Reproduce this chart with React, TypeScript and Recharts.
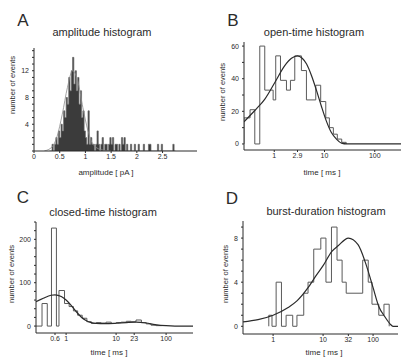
import { ComposedChart, Line, Area, XAxis, YAxis } from "recharts";

const font = "'Liberation Sans', Arial, sans-serif";
const ink = "#2b2b2b";
const histInk = "#5a5a5a";

// A: amplitude histogram, bins of 0.025 pA starting at 0.3 pA
const ampBinStart = 0.3;
const ampBinWidth = 0.025;
const ampCounts = [
  0, 0, 1, 0, 1, 2, 1, 3, 2, 4, 3, 6, 5, 8, 7, 11, 9, 12, 14, 10,
  12, 9, 11, 7, 9, 5, 6, 3, 2, 1, 6, 1, 2, 1, 1, 0, 1, 3, 1, 0,
  1, 2, 0, 1, 1, 0, 1, 2, 1, 2, 0, 1, 1, 0, 1, 0, 2, 1, 2, 0,
  1, 0, 0, 1, 0, 0, 1, 0, 0, 1, 0, 0, 0, 1, 0, 0, 0, 1, 1, 0,
  0, 0, 0, 0, 1, 0, 0, 1, 0, 0, 0, 0, 0, 0, 0, 0, 1, 0,
];
const ampFitX = [0.2, 0.35, 0.45, 0.55, 0.65, 0.75, 0.85, 0.95, 1.05, 1.15, 1.3, 1.5];
const ampFitY = [0, 0.6, 2.2, 5.5, 9.5, 12, 10.5, 6.5, 3, 1, 0.2, 0];
const ampTicks = [0, 0.5, 1, 1.5, 2, 2.5];
const ampYTicks = [0, 1, 2, 3, 4, 5, 6, 7, 8, 9, 10, 11, 12, 13, 14, 15];
const ampYLabels = [4, 8, 12];

// B: open-time histogram (bin edges in ms, counts)
const openEdges = [
  0.25, 0.33, 0.41, 0.515, 0.647, 0.815, 0.95, 1.07, 1.33, 1.75, 2.1,
  2.56, 3.47, 4.37, 6.7, 8.4, 10.6, 12.5, 15, 18, 22, 27,
];
const openCounts = [16, 21, 0, 60, 33, 33, 27, 54, 39, 33, 39, 54, 45, 27, 36, 26, 16, 10, 6, 3, 1];
const openFitT = [0.25, 0.41, 0.65, 1.02, 1.62, 2.2, 2.9, 3.6, 4.4, 5.5, 6.9, 8.7, 10.9, 13.7, 17.3, 21.8, 28, 333];
const openFitN = [13.6, 20.5, 27.5, 37.5, 48, 52.5, 54, 52.5, 49, 42, 33, 23, 14, 7, 3, 0.5, 0, 0];
const openTicks = [1, 2.9, 10, 100];
const openYTicks = [0, 10, 20, 30, 40, 50, 60];
const openYLabels = [0, 20, 40, 60];

// C: closed-time histogram
const closedEdges = [
  0.25, 0.33, 0.42, 0.51, 0.64, 0.72, 0.93, 1.15, 1.4, 1.7, 2.1, 2.6, 3.2,
  4, 5, 6.3, 8, 10, 12.6, 16, 20, 25, 32, 40, 50, 63, 80,
];
const closedCounts = [0, 52, 0, 226, 0, 82, 52, 45, 35, 25, 18, 10, 6, 8, 7, 9, 6, 8, 9, 11, 10, 14, 8, 5, 2, 1];
const closedFitT = [0.25, 0.35, 0.5, 0.6, 0.8, 1, 1.3, 1.6, 2, 2.5, 3.2, 4, 6, 10, 16, 25, 40, 60, 100, 150, 345];
const closedFitN = [56, 64, 71, 72, 68, 60, 46, 33, 21, 13, 8, 6, 5.5, 6.5, 8, 9, 7, 3.5, 0.8, 0, 0];
const closedTicks = [0.6, 1, 10, 23, 100];
const closedYTicks = [0, 20, 40, 60, 80, 100, 120, 140, 160, 180, 200, 220, 240];
const closedYLabels = [0, 100, 200];

// D: burst-duration histogram
const burstEdges = [
  0.82, 0.95, 1.15, 1.47, 1.82, 2.47, 3, 4.1, 5, 6.5, 9, 11.4, 14.7, 19,
  24, 29, 62, 80, 95, 130, 165, 210,
];
const burstCounts = [1, 0, 4, 0, 1, 0, 1, 3, 4, 7, 8, 4, 9, 6, 4, 3, 6, 4, 2, 1, 2];
const burstFitT = [0.25, 0.5, 1, 2, 3, 5, 7, 10, 15, 20, 32, 50, 70, 100, 130, 170, 220, 250, 315];
const burstFitN = [0.4, 0.6, 1, 1.7, 2.3, 3.5, 4.5, 5.5, 6.8, 7.3, 8, 7.4, 5.8, 3.5, 1.8, 0.9, 0.2, 0, 0];
const burstTicks = [1, 10, 32, 100];
const burstYTicks = [0, 1, 2, 3, 4, 5, 6, 7, 8, 9];
const burstYLabels = [0, 4, 8];

function steps(edges: number[], counts: number[]) {
  const pts = [{ x: edges[0], y: 0 }];
  counts.forEach((c, i) => pts.push({ x: edges[i], y: c }));
  pts.push({ x: edges[edges.length - 1], y: 0 });
  return pts;
}

function pairs(xs: number[], ys: number[]) {
  return xs.map((x, i) => ({ x, y: ys[i] }));
}

const ampEdges = [...ampCounts.map((_, i) => +(ampBinStart + i * ampBinWidth).toFixed(3)), +(ampBinStart + ampCounts.length * ampBinWidth).toFixed(3)];

function Txt({ x, y, size, children, rotate }: any) {
  return (
    <div
      style={{
        position: "absolute",
        left: x,
        top: y,
        transform: `translate(-50%, -50%)${rotate ? " rotate(-90deg)" : ""}`,
        fontFamily: font,
        fontSize: size,
        color: ink,
        whiteSpace: "nowrap",
        lineHeight: 1,
      }}
    >
      {children}
    </div>
  );
}

function Panel({
  left, top, width, height, margin, yWidth, xHeight, log, xDomain, yDomain,
  xTicks, yTicks, yLabels, hist, fit, filled,
}: any) {
  const tick = { fontSize: 7, fill: ink, stroke: "none", fontFamily: font };
  return (
    <div style={{ position: "absolute", left, top }}>
      <ComposedChart width={width} height={height} margin={margin}>
        <XAxis
          dataKey="x"
          type="number"
          scale={log ? "log" : "linear"}
          domain={xDomain}
          allowDataOverflow
          ticks={xTicks}
          interval={0}
          height={xHeight}
          tick={tick}
          tickSize={2}
          tickMargin={1}
          axisLine={{ stroke: ink }}
          tickLine={{ stroke: ink }}
          tickFormatter={(v: number) => String(v)}
        />
        <YAxis
          dataKey="y"
          type="number"
          domain={yDomain}
          allowDataOverflow
          ticks={yTicks}
          interval={0}
          width={yWidth}
          tick={tick}
          tickSize={2}
          tickMargin={3}
          axisLine={{ stroke: ink }}
          tickLine={{ stroke: ink }}
          tickFormatter={(v: number) => (yLabels.includes(v) ? String(v) : "")}
        />
        {filled ? (
          <Area
            data={hist}
            dataKey="y"
            type="stepAfter"
            stroke="#6a6a6a"
            strokeWidth={0.7}
            fill="#262626"
            fillOpacity={0.9}
            isAnimationActive={false}
            dot={false}
            activeDot={false}
          />
        ) : (
          <Line
            data={hist}
            dataKey="y"
            type="stepAfter"
            stroke={histInk}
            strokeWidth={1}
            dot={false}
            activeDot={false}
            isAnimationActive={false}
          />
        )}
        <Line
          data={fit}
          dataKey="y"
          type="monotone"
          stroke={filled ? "#8a8a8a" : ink}
          strokeWidth={filled ? 0.8 : 1.2}
          dot={false}
          activeDot={false}
          isAnimationActive={false}
        />
      </ComposedChart>
    </div>
  );
}

export default function App() {
  return (
    <div
      style={{
        position: "absolute",
        left: 0,
        top: 0,
        width: 402,
        height: 358,
        background: "#fff",
        overflow: "hidden",
      }}
    >
      <Panel
        left={0}
        top={40}
        width={200}
        height={130}
        margin={{ top: 8, right: 3, bottom: 5, left: 0 }}
        yWidth={34}
        xHeight={14}
        log={false}
        xDomain={[0, 3.17]}
        yDomain={[0, 15.4]}
        xTicks={ampTicks}
        yTicks={ampYTicks}
        yLabels={ampYLabels}
        hist={steps(ampEdges, ampCounts)}
        fit={pairs(ampFitX, ampFitY)}
        filled
      />
      <Panel
        left={201}
        top={35}
        width={201}
        height={135}
        margin={{ top: 7, right: 1, bottom: 6, left: 0 }}
        yWidth={43}
        xHeight={14}
        log
        xDomain={[0.25, 333]}
        yDomain={[-3.7, 62.5]}
        xTicks={openTicks}
        yTicks={openYTicks}
        yLabels={openYLabels}
        hist={steps(openEdges, openCounts)}
        fit={pairs(openFitT, openFitN)}
      />
      <Panel
        left={0}
        top={215}
        width={200}
        height={135}
        margin={{ top: 7, right: 7, bottom: 5, left: 0 }}
        yWidth={36}
        xHeight={12}
        log
        xDomain={[0.25, 345]}
        yDomain={[-16, 240]}
        xTicks={closedTicks}
        yTicks={closedYTicks}
        yLabels={closedYLabels}
        hist={steps(closedEdges, closedCounts)}
        fit={pairs(closedFitT, closedFitN)}
      />
      <Panel
        left={201}
        top={215}
        width={201}
        height={135}
        margin={{ top: 6, right: 4, bottom: 5, left: 0 }}
        yWidth={42}
        xHeight={11}
        log
        xDomain={[0.25, 315]}
        yDomain={[-0.7, 9.55]}
        xTicks={burstTicks}
        yTicks={burstYTicks}
        yLabels={burstYLabels}
        hist={steps(burstEdges, burstCounts)}
        fit={pairs(burstFitT, burstFitN)}
      />

      <Txt x={23} y={20} size={17}>A</Txt>
      <Txt x={233} y={20} size={17}>B</Txt>
      <Txt x={23} y={197} size={17}>C</Txt>
      <Txt x={232} y={198} size={17}>D</Txt>

      <Txt x={102} y={32} size={11}>amplitude histogram</Txt>
      <Txt x={314} y={32} size={11}>open-time histogram</Txt>
      <Txt x={103} y={212} size={11}>closed-time histogram</Txt>
      <Txt x={326} y={211} size={11}>burst-duration histogram</Txt>

      <Txt x={13} y={85} size={7.5} rotate>number of events</Txt>
      <Txt x={223} y={92} size={7.5} rotate>number of events</Txt>
      <Txt x={12} y={274} size={7.5} rotate>number of events</Txt>
      <Txt x={226} y={274} size={7.5} rotate>number of events</Txt>

      <Txt x={106} y={173} size={8}>amplitude [ pA ]</Txt>
      <Txt x={322} y={173} size={8}>time [ ms ]</Txt>
      <Txt x={109} y={353} size={8}>time [ ms ]</Txt>
      <Txt x={324} y={353} size={8}>time [ ms ]</Txt>
    </div>
  );
}
